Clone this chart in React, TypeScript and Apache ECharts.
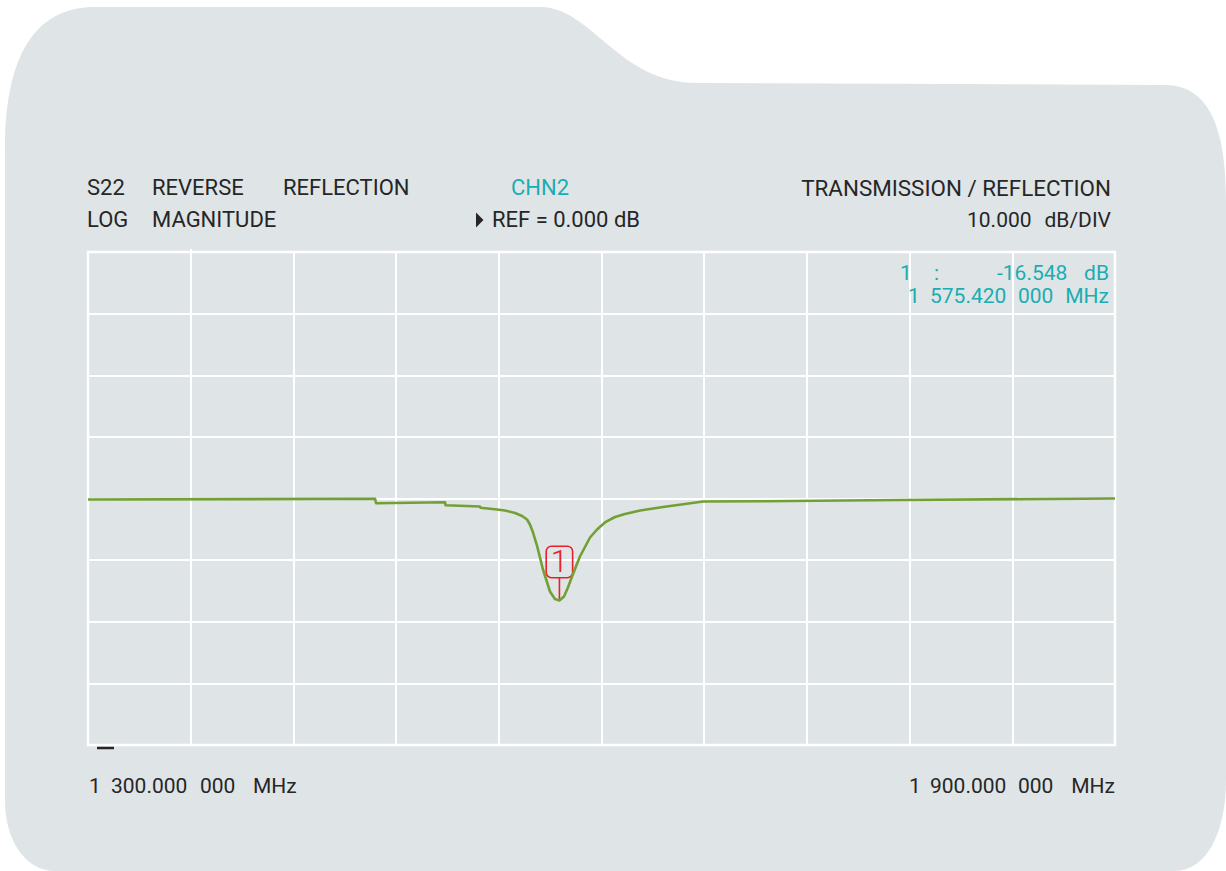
import React, { useEffect, useRef } from "react";
import * as echarts from "echarts";

// ---------- data ----------
const START_MHZ = 1300;
const STOP_MHZ = 1900;
const DIVS_X = 10;
const REF_DB = 0;
const SCALE_DB_PER_DIV = 10;
const DIVS_Y = 8;

const FREQ_MHZ = [
  1300, 1467.7, 1468.3, 1508.6, 1508.9, 1529.0, 1529.3, 1538.95, 1543.6, 1549.5,
  1553.6, 1556.5, 1558.2, 1560.0, 1562.3, 1565.8, 1569.9, 1572.8, 1575.42, 1578.1,
  1580.4, 1582.8, 1587.4, 1593.3, 1597.4, 1602.0, 1607.9, 1613.7, 1622.6, 1635.9,
  1648.8, 1659.3, 1692.6, 1774.4, 1900,
];
const S22_DB = [
  -0.16, -0.05, -0.76, -0.6, -1.09, -1.3, -1.51, -1.79, -1.95, -2.35,
  -2.84, -3.41, -4.22, -5.52, -7.63, -11.52, -15.09, -16.31, -16.548, -15.9,
  -14.44, -12.66, -9.41, -6.33, -5.03, -3.89, -3.0, -2.52, -1.95, -1.38,
  -0.89, -0.49, -0.44, -0.24, 0.0,
];

const MARKER_ID = "1";
const MARKER_FREQ = 1575.42;
const MARKER_DB = -16.548;

const HEADER_ROW1 = ["S22", "REVERSE", "REFLECTION"];
const HEADER_ROW2 = ["LOG", "MAGNITUDE"];
const CHANNEL = "CHN2";
const MODE_TEXT = "TRANSMISSION / REFLECTION";

// ---------- style ----------
const DARK = "#262626";
const TEAL = "#1aadb2";
const GREEN = "#72a034";
const RED = "#e8202a";
const BG = "#dfe4e6";
const FONT = "Roboto, 'DejaVu Sans', sans-serif";

const BG_PATH =
  "M5 150 C5 45 42 7 95 7 L540 7 C592 7 618 83 697 83 L1165 85 C1210 85 1226 130 1226 200 L1226 780 C1226 835 1205 871 1175 871 L55 871 C25 871 5 840 5 800 Z";

const MARKER_SYMBOL =
  "path://M6,0H22A6,6 0 0 1 28,6V27A6,6 0 0 1 22,33H6A6,6 0 0 1 0,27V6A6,6 0 0 1 6,0Z" +
  "M6,1.6A4.4,4.4 0 0 0 1.6,6V27A4.4,4.4 0 0 0 6,31.4H22A4.4,4.4 0 0 0 26.4,27V6A4.4,4.4 0 0 0 22,1.6Z" +
  "M13.2,33H14.8V55H13.2Z";

let registered = false;

function mhzParts(f: number): [string, string, string] {
  const thousands = Math.floor(f / 1000);
  const rest = (f - thousands * 1000).toFixed(6);
  const [intPart, frac] = rest.split(".");
  return [String(thousands), `${intPart.padStart(3, "0")}.${frac.slice(0, 3)}`, frac.slice(3)];
}

function txt(text: string, x: number, y: number, opts: any = {}) {
  return {
    type: "text",
    x,
    y,
    z: 10,
    style: {
      text,
      fill: opts.fill || DARK,
      fontSize: opts.fontSize || 21,
      fontFamily: FONT,
      align: opts.align || "left",
      verticalAlign: "middle",
    },
  };
}

export default function App() {
  const ref = useRef<HTMLDivElement>(null);

  useEffect(() => {
    if (!ref.current) return;
    if (!registered) {
      echarts.graphic.registerShape("bgshape", echarts.graphic.extendPath(BG_PATH, {}));
      registered = true;
    }
    const chart = echarts.init(ref.current, undefined, { renderer: "svg" });

    const span = STOP_MHZ - START_MHZ;
    const data = FREQ_MHZ.map((f, i) => [f - START_MHZ, S22_DB[i]]);
    const yHalf = (SCALE_DB_PER_DIV * DIVS_Y) / 2;

    const startP = mhzParts(START_MHZ);
    const stopP = mhzParts(STOP_MHZ);
    const mkP = mhzParts(MARKER_FREQ);

    const graphics: any[] = [
      { type: "bgshape", x: 0, y: 0, scaleX: 1, scaleY: 1, z: -10, silent: true, style: { fill: BG } },
      txt(HEADER_ROW1[0], 87, 187.5, { fontSize: 22 }),
      txt(HEADER_ROW1[1], 152, 187.5, { fontSize: 22 }),
      txt(HEADER_ROW1[2], 283, 187.5, { fontSize: 22 }),
      txt(CHANNEL, 511, 187.5, { fontSize: 22, fill: TEAL }),
      txt(MODE_TEXT, 1111, 187.5, { fontSize: 22.4, align: "right" }),
      txt(HEADER_ROW2[0], 87, 219.5, { fontSize: 22 }),
      txt(HEADER_ROW2[1], 152, 219.5, { fontSize: 22 }),
      {
        type: "polygon",
        z: 10,
        shape: { points: [[476, 212.5], [483.5, 220], [476, 227.5]] },
        style: { fill: DARK },
      },
      txt(`REF = ${REF_DB.toFixed(3)} dB`, 492, 219.5, { fontSize: 22 }),
      txt(SCALE_DB_PER_DIV.toFixed(3), 967, 219.5),
      txt("dB/DIV", 1111, 219.5, { align: "right" }),
      txt(MARKER_ID, 900, 272.5, { fill: TEAL }),
      txt(":", 934, 272.5, { fill: TEAL }),
      txt(MARKER_DB.toFixed(3), 997, 272.5, { fill: TEAL }),
      txt("dB", 1109, 272.5, { fill: TEAL, align: "right" }),
      txt(mkP[0], 908, 296, { fill: TEAL }),
      txt(mkP[1], 930, 296, { fill: TEAL }),
      txt(mkP[2], 1018, 296, { fill: TEAL }),
      txt("MHz", 1109, 296, { fill: TEAL, align: "right" }),
      txt(startP[0], 89, 786),
      txt(startP[1], 111, 786),
      txt(startP[2], 200, 786),
      txt("MHz", 253, 786),
      txt(stopP[0], 909, 786),
      txt(stopP[1], 930, 786),
      txt(stopP[2], 1018, 786),
      txt("MHz", 1115, 786, { align: "right" }),
      {
        type: "line",
        z: 10,
        shape: { x1: 97, y1: 748, x2: 114, y2: 748 },
        style: { stroke: DARK, lineWidth: 2.5 },
      },
      {
        type: "line",
        z: 10,
        shape: { x1: 191, y1: 249, x2: 191, y2: 253 },
        style: { stroke: "#ffffff", lineWidth: 2 },
      },
    ];

    chart.setOption({
      animation: false,
      backgroundColor: "transparent",
      grid: {
        left: 88,
        right: 111,
        top: 252,
        bottom: 126,
        show: true,
        borderColor: "#ffffff",
        borderWidth: 2.5,
        backgroundColor: "transparent",
      },
      xAxis: {
        type: "value",
        min: 0,
        max: span,
        interval: span / DIVS_X,
        axisLine: { show: false },
        axisTick: { show: false },
        axisLabel: { show: false },
        splitLine: { show: true, lineStyle: { color: "#ffffff", width: 2 } },
      },
      yAxis: {
        type: "value",
        min: REF_DB - yHalf,
        max: REF_DB + yHalf,
        interval: SCALE_DB_PER_DIV,
        axisLine: { show: false },
        axisTick: { show: false },
        axisLabel: { show: false },
        splitLine: { show: true, lineStyle: { color: "#ffffff", width: 2 } },
      },
      graphic: graphics,
      series: [
        {
          type: "line",
          data,
          showSymbol: false,
          symbol: "none",
          lineStyle: { color: GREEN, width: 2.6, join: "round" },
          z: 5,
          markPoint: {
            symbol: MARKER_SYMBOL,
            symbolSize: [28, 55],
            symbolOffset: [0, "-50%"],
            itemStyle: { color: RED, borderWidth: 0 },
            label: {
              show: true,
              formatter: MARKER_ID,
              position: "inside",
              offset: [0, -11],
              color: RED,
              fontSize: 31,
              fontWeight: 300,
              fontFamily: FONT,
            },
            data: [{ coord: [MARKER_FREQ - START_MHZ, MARKER_DB] }],
          },
        },
      ],
    });

    return () => chart.dispose();
  }, []);

  return (
    <div
      ref={ref}
      style={{ position: "fixed", left: 0, top: 0, width: 1226, height: 871, background: "#ffffff" }}
    />
  );
}
